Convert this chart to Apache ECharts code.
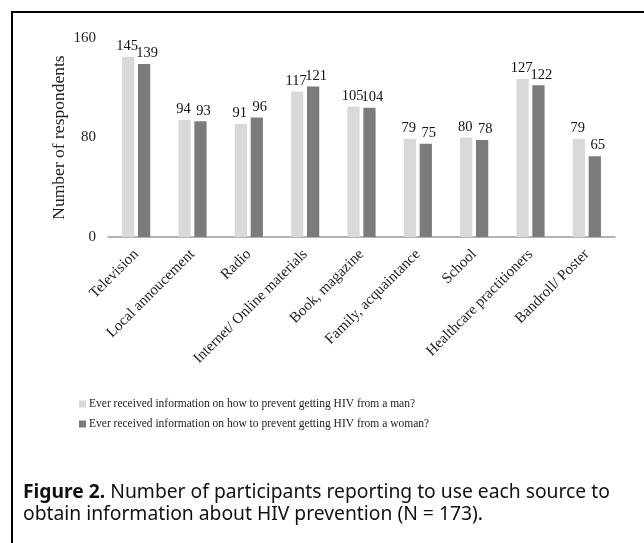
<!DOCTYPE html>
<html>
<head>
<meta charset="utf-8">
<script src="https://cdn.jsdelivr.net/npm/echarts@6/dist/echarts.min.js"></script>
<style>
  body { margin: 0; background: #fff; overflow: hidden; }
  #frame { position: absolute; left: 11px; top: 11px; width: 640px; height: 540px;
           border-top: 2px solid #000; border-left: 2px solid #000; pointer-events: none; }
  #main { position: absolute; left: 0; top: 0; width: 644px; height: 543px; }
</style>
</head>
<body>
<div id="main"></div>
<div id="frame"></div>
<script>
// sources of information
var sources = ['Television', 'Local annoucement', 'Radio', 'Internet/ Online materials',
  'Book, magazine', 'Family, acquaintance', 'School', 'Healthcare practitioners', 'Bandroll/ Poster'];
var fromMan = [145, 94, 91, 117, 105, 79, 80, 127, 79];
var fromWoman = [139, 93, 96, 121, 104, 75, 78, 122, 65];
var seriesNames = ['Ever received information on how to prevent getting HIV from a man?',
  'Ever received information on how to prevent getting HIV from a woman?'];
var yTicks = [0, 80, 160];

var serif = 'Liberation Serif';
var chart = echarts.init(document.getElementById('main'));

chart.setOption({
  animation: false,
  color: ['#d9d9d9', '#7b7b7b'],
  title: {
    left: 18,
    top: 477,
    text: '{b|Figure 2.} Number of participants reporting to use each source to\nobtain information about HIV prevention (N = 173).',
    textStyle: {
      fontFamily: 'Noto Sans', fontSize: 19.3, fontWeight: 'normal', color: '#111', lineHeight: 22,
      rich: {
        b: { fontFamily: 'Noto Sans', fontSize: 19.3, fontWeight: 'bold', color: '#111', lineHeight: 22 }
      }
    }
  },
  legend: {
    orient: 'vertical',
    left: 74,
    top: 393,
    itemWidth: 7,
    itemHeight: 7,
    itemGap: 8,
    icon: 'rect',
    data: seriesNames,
    textStyle: { fontFamily: serif, fontSize: 11.5, color: '#222', padding: [0, 0, 0, -2] }
  },
  grid: { left: 108, right: 29, top: 38, bottom: 306, containLabel: false },
  xAxis: {
    type: 'category',
    data: sources,
    axisLine: { lineStyle: { color: '#9a9a9a', width: 1.5 } },
    axisTick: { show: false },
    axisLabel: { interval: 0, rotate: 45, fontFamily: serif, fontSize: 15, color: '#222', margin: 15 }
  },
  yAxis: {
    type: 'value',
    min: yTicks[0],
    max: yTicks[yTicks.length - 1],
    interval: yTicks[1] - yTicks[0],
    name: 'Number of respondents',
    nameLocation: 'middle',
    nameGap: 40,
    nameMoveOverlap: false,
    nameTextStyle: { fontFamily: serif, fontSize: 17.5, color: '#222' },
    axisLine: { show: false },
    axisTick: { show: false },
    splitLine: { show: false },
    axisLabel: { fontFamily: serif, fontSize: 15, color: '#222', margin: 12 }
  },
  series: [
    {
      name: seriesNames[0],
      type: 'bar',
      data: fromMan,
      barGap: '30%',
      barCategoryGap: '50%',
      label: { show: true, position: 'top', distance: 3, offset: [-1, 0], fontFamily: serif, fontSize: 14.5, color: '#111' }
    },
    {
      name: seriesNames[1],
      type: 'bar',
      data: fromWoman,
      barGap: '30%',
      barCategoryGap: '50%',
      label: { show: true, position: 'top', distance: 3, offset: [3, 0], fontFamily: serif, fontSize: 14.5, color: '#111' }
    }
  ]
});
</script>
</body>
</html>
